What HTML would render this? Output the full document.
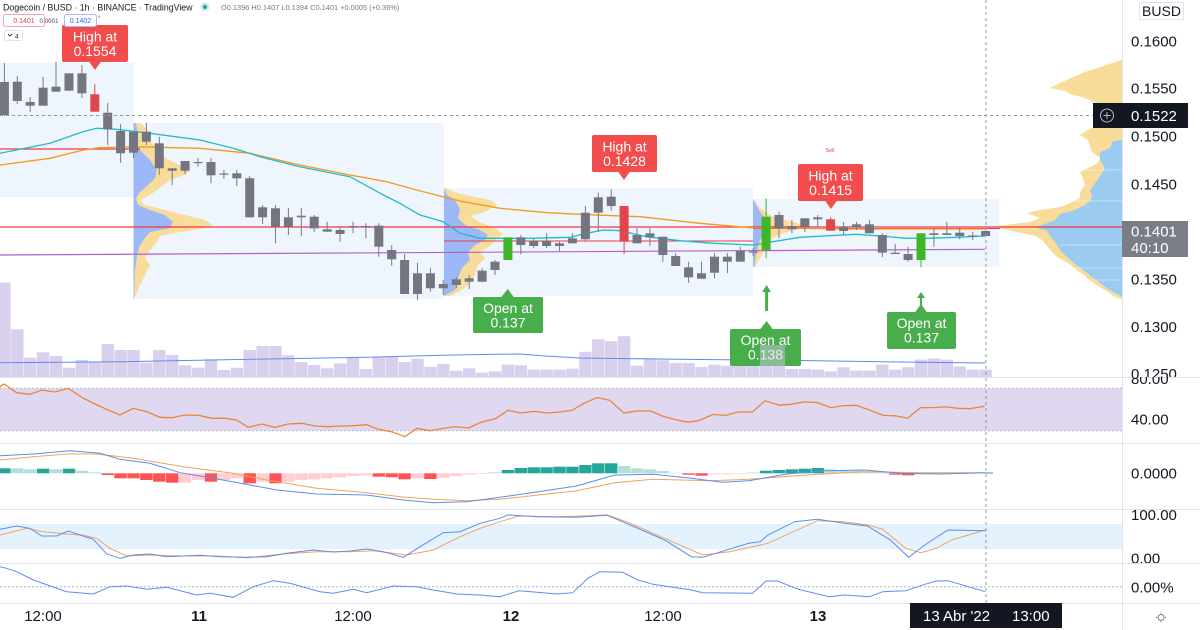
<!DOCTYPE html>
<html><head><meta charset="utf-8"><style>
html,body{margin:0;padding:0;background:#fff;}
svg{display:block;font-family:"Liberation Sans",Arial,sans-serif;}
</style></head><body>
<svg width="1200" height="630" viewBox="0 0 1200 630" xmlns="http://www.w3.org/2000/svg">
<defs>
<clipPath id="cm"><rect x="0" y="0" width="1122" height="377"/></clipPath>
<clipPath id="cr"><rect x="0" y="377" width="1122" height="66"/></clipPath>
<clipPath id="cmacd"><rect x="0" y="443" width="1122" height="66"/></clipPath>
<clipPath id="cs"><rect x="0" y="509" width="1122" height="54"/></clipPath>
<clipPath id="cl"><rect x="0" y="563" width="1122" height="40"/></clipPath>
<clipPath id="ax1"><rect x="1122" y="0" width="78" height="377"/></clipPath>
<clipPath id="ax2"><rect x="1122" y="377" width="78" height="66"/></clipPath>
<clipPath id="ax4"><rect x="1122" y="509" width="78" height="54"/></clipPath>
</defs>
<rect width="1200" height="630" fill="#fff"/>

<!-- MAIN PANE -->
<g clip-path="url(#cm)">
  <!-- session boxes -->
  <rect x="0" y="63" width="133.5" height="134" fill="#eef5fd"/>
  <rect x="133.5" y="123" width="310.5" height="176" fill="#eef5fd"/>
  <rect x="444" y="188" width="309" height="108" fill="#eef5fd"/>
  <rect x="753" y="199" width="246" height="68" fill="#eef5fd"/>

  <!-- box profiles -->
  <polygon fill="#f8dc9c" points="133.5,123 140,123 148,130 145,138 155,145 160,150 165,158 175,163 190,170 185,175 170,180 160,188 150,195 140,200 145,205 165,210 185,215 205,220 213,225 200,229 180,232 160,236 157,242 150,250 145,258 150,265 145,275 140,285 136,295 133.5,299"/>
  <polygon fill="#9db8f6" points="133.5,123 136,123 138,135 135,140 140,150 150,160 157,170 155,178 148,185 140,192 136,198 138,205 150,210 165,215 173,222 170,228 150,232 145,238 140,245 137,255 135,270 134,299 133.5,299"/>
  <polygon fill="#f8dc9c" points="444,188 455,192 470,196 490,200 497,205 485,212 470,216 480,222 495,228 503,234 495,240 490,246 480,252 485,258 478,265 475,275 470,283 462,290 450,296 444,296"/>
  <polygon fill="#9db8f6" points="444,188 447,195 455,200 460,210 458,218 465,225 480,230 488,235 485,240 475,245 468,252 470,260 462,268 458,278 455,290 444,296"/>
  <polygon fill="#f8dc9c" points="753,199 760,208 770,215 785,220 800,224 807,227 795,230 780,234 770,240 765,250 760,258 755,267 753,267"/>
  <polygon fill="#9db8f6" points="753,199 756,205 760,212 765,218 767,225 765,232 760,240 757,250 754,267 753,267"/>

  <!-- right visible range profile -->
  <polygon fill="#dcebf8" points="1122,60 1110,65 1100,72 1095,80 1088,90 1090,100 1095,110 1105,120 1110,130 1113,140 1122,140"/>
  <polygon fill="#f9dc9a" points="1122,60 1112,63 1100,67 1085,72 1073,77 1060,83 1050,88 1065,91 1070,94 1085,98 1095,102 1100,106 1105,112 1110,118 1100,124 1088,130 1080,135 1088,140 1090,146 1092,152 1100,158 1098,163 1090,167 1080,172 1083,178 1085,185 1080,192 1080,198 1070,203 1060,207 1040,210 1027,213 1040,218 1030,222 997,226 1000,228 1017,232 1035,236 1042,240 1047,246 1052,252 1057,257 1068,263 1077,270 1085,276 1092,282 1100,287 1108,292 1115,297 1122,299"/>
  <polygon fill="#9ccbf1" points="1122,140 1113,141 1110,148 1100,152 1100,160 1105,168 1100,176 1095,183 1090,190 1092,198 1085,205 1075,210 1060,214 1055,220 1045,224 1035,227 1047,231 1050,236 1055,242 1060,250 1067,257 1075,264 1083,270 1092,277 1100,283 1108,289 1117,294 1122,297"/>
  <g stroke="#eef6fd" stroke-width="0.6">
    <line x1="1085" y1="170" x2="1122" y2="170"/><line x1="1070" y1="201" x2="1122" y2="201"/><line x1="1060" y1="245" x2="1122" y2="245"/><line x1="1075" y1="268" x2="1122" y2="268"/><line x1="1090" y1="280" x2="1122" y2="280"/>
  </g>

  <!-- volume -->
  <g fill="#d9d0ee">
<rect x="-1.8" y="282.7" width="12.4" height="94.3"/><rect x="11.1" y="329.3" width="12.4" height="47.7"/><rect x="24" y="357.7" width="12.4" height="19.3"/><rect x="36.9" y="352.3" width="12.4" height="24.7"/><rect x="49.8" y="356" width="12.4" height="21"/><rect x="62.8" y="367.7" width="12.4" height="9.3"/><rect x="75.7" y="360" width="12.4" height="17"/><rect x="88.6" y="361.7" width="12.4" height="15.3"/><rect x="101.5" y="344" width="12.4" height="33"/><rect x="114.4" y="350" width="12.4" height="27"/><rect x="127.3" y="350" width="12.4" height="27"/><rect x="140.2" y="362.7" width="12.4" height="14.3"/><rect x="153.1" y="350" width="12.4" height="27"/><rect x="166" y="355" width="12.4" height="22"/><rect x="178.9" y="365.3" width="12.4" height="11.7"/><rect x="191.9" y="367.7" width="12.4" height="9.3"/><rect x="204.8" y="359.3" width="12.4" height="17.7"/><rect x="217.7" y="370" width="12.4" height="7"/><rect x="230.6" y="367.7" width="12.4" height="9.3"/><rect x="243.5" y="350" width="12.4" height="27"/><rect x="256.4" y="346" width="12.4" height="31"/><rect x="269.3" y="346" width="12.4" height="31"/><rect x="282.2" y="355.3" width="12.4" height="21.7"/><rect x="295.1" y="362" width="12.4" height="15"/><rect x="308" y="365" width="12.4" height="12"/><rect x="321" y="368.3" width="12.4" height="8.7"/><rect x="333.9" y="363.3" width="12.4" height="13.7"/><rect x="346.8" y="357.7" width="12.4" height="19.3"/><rect x="359.7" y="369" width="12.4" height="8"/><rect x="372.6" y="356.7" width="12.4" height="20.3"/><rect x="385.5" y="356.7" width="12.4" height="20.3"/><rect x="398.4" y="362" width="12.4" height="15"/><rect x="411.3" y="358.7" width="12.4" height="18.3"/><rect x="424.2" y="366.7" width="12.4" height="10.3"/><rect x="437.1" y="364" width="12.4" height="13"/><rect x="450.1" y="370.7" width="12.4" height="6.3"/><rect x="463" y="368.3" width="12.4" height="8.7"/><rect x="475.9" y="372.7" width="12.4" height="4.3"/><rect x="488.8" y="371.4" width="12.4" height="5.6"/><rect x="501.7" y="364.6" width="12.4" height="12.4"/><rect x="514.6" y="365.3" width="12.4" height="11.7"/><rect x="527.5" y="369.7" width="12.4" height="7.3"/><rect x="540.4" y="369.7" width="12.4" height="7.3"/><rect x="553.3" y="369.7" width="12.4" height="7.3"/><rect x="566.2" y="368.7" width="12.4" height="8.3"/><rect x="579.2" y="351.8" width="12.4" height="25.2"/><rect x="592.1" y="339.2" width="12.4" height="37.8"/><rect x="605" y="341.2" width="12.4" height="35.8"/><rect x="617.9" y="336.2" width="12.4" height="40.8"/><rect x="630.8" y="365.7" width="12.4" height="11.3"/><rect x="643.7" y="359.6" width="12.4" height="17.4"/><rect x="656.6" y="360.2" width="12.4" height="16.8"/><rect x="669.5" y="363" width="12.4" height="14"/><rect x="682.4" y="363" width="12.4" height="14"/><rect x="695.3" y="367" width="12.4" height="10"/><rect x="708.3" y="364.6" width="12.4" height="12.4"/><rect x="721.2" y="365.7" width="12.4" height="11.3"/><rect x="734.1" y="365.7" width="12.4" height="11.3"/><rect x="747" y="365.7" width="12.4" height="11.3"/><rect x="759.9" y="345" width="12.4" height="32"/><rect x="772.8" y="350" width="12.4" height="27"/><rect x="785.7" y="369" width="12.4" height="8"/><rect x="798.6" y="369" width="12.4" height="8"/><rect x="811.5" y="369.7" width="12.4" height="7.3"/><rect x="824.4" y="371.4" width="12.4" height="5.6"/><rect x="837.4" y="367.3" width="12.4" height="9.7"/><rect x="850.3" y="370.7" width="12.4" height="6.3"/><rect x="863.2" y="370.7" width="12.4" height="6.3"/><rect x="876.1" y="364.6" width="12.4" height="12.4"/><rect x="889" y="369.7" width="12.4" height="7.3"/><rect x="901.9" y="367.3" width="12.4" height="9.7"/><rect x="914.8" y="359.6" width="12.4" height="17.4"/><rect x="927.7" y="358.5" width="12.4" height="18.5"/><rect x="940.6" y="359.6" width="12.4" height="17.4"/><rect x="953.5" y="366.5" width="12.4" height="10.5"/><rect x="966.5" y="369.7" width="12.4" height="7.3"/><rect x="979.4" y="369.7" width="12.4" height="7.3"/>
  </g>
  <polyline fill="none" stroke="#5b8def" stroke-width="1" points="0,362.7 123,361.7 250,359.3 367,357.3 443,355.3 480,354.5 520,354 545,356 580,358 700,359.5 800,360.5 900,362 985,363"/>

  <!-- horizontal levels -->
  <line x1="0" y1="149" x2="140" y2="149" stroke="#f23645" stroke-width="1.2"/>
  <line x1="0" y1="227" x2="1122" y2="227" stroke="#f23645" stroke-width="1.3"/>
  <line x1="753" y1="228.5" x2="1000" y2="228.5" stroke="#f23645" stroke-width="1"/>
  <line x1="444" y1="241" x2="753" y2="241" stroke="#f23645" stroke-width="1"/>
  <line x1="0" y1="255" x2="985" y2="249.3" stroke="#b460cf" stroke-width="1.2"/>

  <!-- MAs -->
  <polyline fill="none" stroke="#f39a1e" stroke-width="1.3" points="0,165 50,158.3 83.3,150 100,147.7 133.3,146.7 200,148.3 250,153.3 300,165 350,175 386.7,181.7 416.7,190 440,196 463.3,201.7 500,208.3 546.7,212.7 580,214.3 640,216.7 700,223.3 750,227.7 770,228 850,229 985,229"/>
  <polyline fill="none" stroke="#1fbcc8" stroke-width="1.3" points="0,153.3 50,143.3 83,131.7 96.7,128.3 116.7,129.3 150,133.3 200,140 233.3,148.3 260,156.7 300,166.7 350,176.7 383.3,195 400,203.3 420,215 443.3,221.7 460,233.3 480,238.3 530,238.3 570,237.3 586.7,233.3 603.3,230 620,230.7 646.7,236.7 680,240.7 713.3,243.3 753,245 773,241.7 800,237.3 823,236 856.7,234.3 880,236 906.7,238.3 926.7,238.3 956.7,237.3 985,236"/>

  <!-- candles: wicks -->
  <path fill="none" stroke="#787b86" stroke-width="1" d="M4.4 63V116M17.3 76V104M30.2 97V111.7M43.1 76.7V105.7M56 61.7V91.7M81.9 65V98M107.7 103V145M120.6 124V162.7M133.5 131V158M146.4 122.7V145M159.3 136.7V175M172.2 168.3V185M185.1 161V174M198 158V166.7M211 158V183.3M223.9 170V179M236.8 170V186M249.7 176V217.3M262.6 205V224M275.5 205V243.3M288.4 208V235M301.3 208V235.7M314.2 215V231.7M327.2 221.7V231.7M340.1 226.7V241.7M353 221.7V233.3M365.9 223.3V238.3M378.8 223.3V256.7M391.7 245V265.7M404.6 254V294M417.5 262.7V300M430.4 267.7V291.7M443.3 280V295M456.3 276.7V288.3M469.2 275V289M482.1 268.3V281.7M495 260V275M520.8 235V254.3M533.7 238.3V248.3M546.6 233.3V248.3M559.5 241.7V251M572.4 233.3V243.3M585.4 206V241.7M598.3 192.7V231.7M611.2 189.3V210.7M637 228.3V243.3M649.9 228.3V246M662.8 236.7V261.7M675.7 253.3V266M688.6 261.7V282.7M701.5 261.7V278.7M714.5 253.3V278.3M727.4 253.3V273.3M740.3 246.7V261.7M753.2 248V256M779 211.7V238.3M791.9 220V233.3M804.8 218.3V231.7M817.7 215V226.7M843.6 222V235M856.5 221.7V230M869.4 220V233.3M882.3 233.3V257.3M895.2 244V254M908.1 246.7V261.7M933.9 228.3V246.7M946.8 221.7V235M959.7 228.3V239.3M972.7 231.7V240M985.6 231V236"/>
  <path fill="none" stroke="#e0474c" stroke-width="1" d="M94.8 84.3V111.7M624.1 206V254M830.6 217.3V230.7"/>
  <path fill="none" stroke="#3fb628" stroke-width="1" d="M766.1 198.3V258.3M921 233.3V267.3"/>
  <!-- candle bodies -->
  <g fill="#737680">
<rect x="-0.1" y="82" width="9" height="33"/><rect x="12.8" y="81.7" width="9" height="19.3"/><rect x="25.7" y="102" width="9" height="3.7"/><rect x="38.6" y="87.7" width="9" height="18"/><rect x="51.5" y="86.7" width="9" height="5"/><rect x="64.5" y="73.3" width="9" height="17.4"/><rect x="77.4" y="73.3" width="9" height="20"/><rect x="103.2" y="112.7" width="9" height="16.6"/><rect x="116.1" y="131" width="9" height="22.3"/><rect x="129" y="131.7" width="9" height="21"/><rect x="141.9" y="131.7" width="9" height="10"/><rect x="154.8" y="143.3" width="9" height="25"/><rect x="167.7" y="168.3" width="9" height="2.4"/><rect x="180.6" y="161" width="9" height="9.7"/><rect x="193.6" y="162" width="9" height="1.2"/><rect x="206.5" y="162" width="9" height="13.3"/><rect x="219.4" y="173.5" width="9" height="1.2"/><rect x="232.3" y="173.3" width="9" height="5"/><rect x="245.2" y="178.3" width="9" height="39"/><rect x="258.1" y="207.3" width="9" height="10"/><rect x="271" y="208.3" width="9" height="18.4"/><rect x="283.9" y="217.3" width="9" height="9.4"/><rect x="296.8" y="215.7" width="9" height="1.6"/><rect x="309.7" y="216.7" width="9" height="11.6"/><rect x="322.7" y="229.3" width="9" height="2.4"/><rect x="335.6" y="230" width="9" height="4"/><rect x="348.5" y="226" width="9" height="1.2"/><rect x="361.4" y="226" width="9" height="1.2"/><rect x="374.3" y="225.7" width="9" height="21"/><rect x="387.2" y="250" width="9" height="9.3"/><rect x="400.1" y="260" width="9" height="34"/><rect x="413" y="273.3" width="9" height="20.7"/><rect x="425.9" y="273.3" width="9" height="15"/><rect x="438.8" y="284" width="9" height="4.3"/><rect x="451.8" y="279.3" width="9" height="5.7"/><rect x="464.7" y="278.3" width="9" height="3.4"/><rect x="477.6" y="270.7" width="9" height="11"/><rect x="490.5" y="261.7" width="9" height="8.3"/><rect x="516.3" y="237.3" width="9" height="7.7"/><rect x="529.2" y="241" width="9" height="5"/><rect x="542.1" y="241" width="9" height="5"/><rect x="555" y="243.3" width="9" height="2.7"/><rect x="567.9" y="238.3" width="9" height="5"/><rect x="580.9" y="212.7" width="9" height="26.6"/><rect x="593.8" y="197.3" width="9" height="15.4"/><rect x="606.7" y="196.7" width="9" height="9.3"/><rect x="632.5" y="235" width="9" height="8.3"/><rect x="645.4" y="233.3" width="9" height="4"/><rect x="658.3" y="236.7" width="9" height="18.3"/><rect x="671.2" y="256" width="9" height="10"/><rect x="684.1" y="267.3" width="9" height="10"/><rect x="697" y="273.3" width="9" height="5.4"/><rect x="710" y="256.7" width="9" height="16"/><rect x="722.9" y="256.7" width="9" height="5"/><rect x="735.8" y="250.7" width="9" height="11"/><rect x="748.7" y="251.5" width="9" height="1.2"/><rect x="774.5" y="215" width="9" height="13.3"/><rect x="787.4" y="226" width="9" height="3.3"/><rect x="800.3" y="218.3" width="9" height="8.4"/><rect x="813.2" y="217.3" width="9" height="2"/><rect x="839.1" y="226.7" width="9" height="4.3"/><rect x="852" y="224.3" width="9" height="3"/><rect x="864.9" y="224.3" width="9" height="9"/><rect x="877.8" y="235" width="9" height="17.7"/><rect x="890.7" y="252.7" width="9" height="1.3"/><rect x="903.6" y="254" width="9" height="6"/><rect x="929.4" y="233.3" width="9" height="1.7"/><rect x="942.3" y="233.3" width="9" height="1.7"/><rect x="955.2" y="232.7" width="9" height="3.3"/><rect x="968.2" y="235.5" width="9" height="1.2"/><rect x="981.1" y="231" width="9" height="5"/>
  </g>
  <g fill="#e0474c"><rect x="90.3" y="94.3" width="9" height="17.4"/><rect x="619.6" y="206" width="9" height="35.7"/><rect x="826.1" y="219.3" width="9" height="11.4"/></g>
  <g fill="#3fb628"><rect x="503.4" y="237.3" width="9" height="22.7"/><rect x="761.6" y="216.7" width="9" height="33.3"/><rect x="916.5" y="233.3" width="9" height="26.7"/></g>

  <!-- crosshair horizontal -->
  <line x1="0" y1="115.5" x2="1093" y2="115.5" stroke="#9598a1" stroke-width="1" stroke-dasharray="3,3"/>

  <!-- labels -->
  <g font-size="14" fill="#fff" text-anchor="middle">
    <rect x="62" y="25" width="66" height="37" rx="2" fill="#f24c4c"/>
    <polygon points="89,61.5 101,61.5 95,70" fill="#f24c4c"/>
    <text x="95" y="41.5">High at</text><text x="95" y="56">0.1554</text>

    <rect x="592" y="135" width="65" height="37" rx="2" fill="#f24c4c"/>
    <polygon points="618,171.5 630,171.5 624,180" fill="#f24c4c"/>
    <text x="624.5" y="151.5">High at</text><text x="624.5" y="166">0.1428</text>

    <rect x="798" y="164" width="65" height="37" rx="2" fill="#f24c4c"/>
    <polygon points="825,200.5 837,200.5 831,209" fill="#f24c4c"/>
    <text x="830.5" y="180.5">High at</text><text x="830.5" y="195">0.1415</text>

    <rect x="473" y="297" width="70" height="36" rx="2" fill="#48ad4b"/>
    <polygon points="501,297.5 514,297.5 507.7,289" fill="#48ad4b"/>
    <text x="508" y="313">Open at</text><text x="508" y="327.5">0.137</text>

    <rect x="730" y="329" width="71" height="37" rx="2" fill="#48ad4b"/>
    <polygon points="760,329.5 773,329.5 766.6,321" fill="#48ad4b"/>
    <text x="765.5" y="345">Open at</text><text x="765.5" y="359.5">0.138</text>
    <rect x="760" y="345" width="25" height="21" fill="#d6cdea" opacity="0.45"/>

    <rect x="887" y="312" width="69" height="37" rx="2" fill="#48ad4b"/>
    <polygon points="915,312.5 927,312.5 921,304" fill="#48ad4b"/>
    <text x="921.5" y="328">Open at</text><text x="921.5" y="342.5">0.137</text>
  </g>
  <line x1="766.6" y1="290" x2="766.6" y2="311" stroke="#48ad4b" stroke-width="3"/>
  <polygon points="762,292 771,292 766.6,285" fill="#48ad4b"/>
  <line x1="921" y1="296" x2="921" y2="305" stroke="#48ad4b" stroke-width="2"/>
  <polygon points="917,298 925,298 921,292" fill="#48ad4b"/>
  <text x="830" y="152" font-size="5.5" fill="#f23645" text-anchor="middle">Sell</text>
</g>

<!-- RSI PANE -->
<g clip-path="url(#cr)">
  <rect x="0" y="388.3" width="1122" height="42.4" fill="#7e57c2" fill-opacity="0.24"/>
  <line x1="0" y1="388.3" x2="1122" y2="388.3" stroke="#b6b8c2" stroke-dasharray="2,2"/>
  <line x1="0" y1="430.7" x2="1122" y2="430.7" stroke="#b6b8c2" stroke-dasharray="2,2"/>
  <polyline fill="none" stroke="#e6883a" stroke-width="1.3" points="0,386.7 4,384 16.7,392.7 30,394.3 41.7,390 55,392 68.3,388.3 81.7,397.3 95,404 106.7,409.3 120,415 133.3,408.3 146.7,411.7 160,417.3 171.7,417.7 185,415 198.3,415.3 211.7,418.3 225,418.3 236.7,420 248.3,427.3 261.7,424 275,427.3 288.3,424 301.7,423.3 315,426 328.3,426.7 340,426 353.3,425.7 366.7,424.7 378.3,429.3 391.7,431.7 405,436.7 416.7,428.3 430,430.7 440,429 454.3,426.6 468.6,428 481.1,422.2 495.4,418.8 507.9,410.3 520.4,413 534.6,411.4 547.1,413 559.6,412 572.1,410.3 584.6,402.9 597.1,397.5 609.6,400.2 623.9,413 636.4,411 650.7,411 663.2,416.4 675.7,419.8 688.2,422.2 698.9,420.5 713.2,414.4 725.7,415.4 738.2,412 752.5,412 765,400.8 779.3,405.2 791.8,404.2 804.3,401.9 816.8,402.5 831.1,407.6 843.6,405.6 856.1,405.3 868.6,409.7 882.9,415.4 895.4,415.8 907.9,418.1 920.4,407.6 932.9,407.6 945.4,406.9 957.9,408.3 970.4,408.6 984.6,406.3"/>
</g>

<!-- MACD PANE -->
<g clip-path="url(#cmacd)">
  <g fill="#26a69a">
<rect x="-1.8" y="468.3" width="12.4" height="5"/><rect x="36.9" y="468.7" width="12.4" height="4.6"/><rect x="62.8" y="468.7" width="12.4" height="4.6"/><rect x="501.7" y="470" width="12.4" height="3.3"/><rect x="514.6" y="468" width="12.4" height="5.3"/><rect x="527.5" y="467.3" width="12.4" height="6"/><rect x="540.4" y="467.3" width="12.4" height="6"/><rect x="553.3" y="466.7" width="12.4" height="6.6"/><rect x="566.2" y="466.7" width="12.4" height="6.6"/><rect x="579.2" y="465" width="12.4" height="8.3"/><rect x="592.1" y="463.3" width="12.4" height="10"/><rect x="605" y="463.3" width="12.4" height="10"/><rect x="759.9" y="470.7" width="12.4" height="2.6"/><rect x="772.8" y="470" width="12.4" height="3.3"/><rect x="785.7" y="469.3" width="12.4" height="4"/><rect x="798.6" y="468.7" width="12.4" height="4.6"/><rect x="811.5" y="468" width="12.4" height="5.3"/>
  </g>
  <g fill="#b2dfdb">
<rect x="11.1" y="468.3" width="12.4" height="5"/><rect x="24" y="469.3" width="12.4" height="4"/><rect x="49.8" y="469.3" width="12.4" height="4"/><rect x="75.7" y="470.7" width="12.4" height="2.6"/><rect x="88.6" y="472.3" width="12.4" height="1"/><rect x="488.8" y="472.3" width="12.4" height="1"/><rect x="617.9" y="466" width="12.4" height="7.3"/><rect x="630.8" y="468.3" width="12.4" height="5"/><rect x="643.7" y="469.3" width="12.4" height="4"/><rect x="656.6" y="471" width="12.4" height="2.3"/><rect x="669.5" y="472.7" width="12.4" height="0.6"/><rect x="747" y="472.5" width="12.4" height="0.8"/><rect x="824.4" y="469.3" width="12.4" height="4"/><rect x="837.4" y="470" width="12.4" height="3.3"/><rect x="850.3" y="470.7" width="12.4" height="2.6"/><rect x="863.2" y="471.7" width="12.4" height="1.6"/><rect x="876.1" y="472.7" width="12.4" height="0.6"/><rect x="940.6" y="473" width="12.4" height="0.4"/><rect x="966.5" y="472.8" width="12.4" height="0.6"/><rect x="979.4" y="472.8" width="12.4" height="0.6"/>
  </g>
  <g fill="#ff5252">
<rect x="101.5" y="473.3" width="12.4" height="1.7"/><rect x="114.4" y="473.3" width="12.4" height="5"/><rect x="127.3" y="473.3" width="12.4" height="5"/><rect x="140.2" y="473.3" width="12.4" height="6.7"/><rect x="153.1" y="473.3" width="12.4" height="8.4"/><rect x="166" y="473.3" width="12.4" height="9.4"/><rect x="204.8" y="473.3" width="12.4" height="8.4"/><rect x="243.5" y="473.3" width="12.4" height="10"/><rect x="269.3" y="473.3" width="12.4" height="10"/><rect x="372.6" y="473.3" width="12.4" height="3.4"/><rect x="385.5" y="473.3" width="12.4" height="4"/><rect x="398.4" y="473.3" width="12.4" height="6"/><rect x="424.2" y="473.3" width="12.4" height="5.7"/><rect x="682.4" y="473.3" width="12.4" height="1.4"/><rect x="695.3" y="473.3" width="12.4" height="2.4"/><rect x="889" y="473.3" width="12.4" height="1.4"/><rect x="901.9" y="473.3" width="12.4" height="2"/>
  </g>
  <g fill="#ffcdd2">
<rect x="178.9" y="473.3" width="12.4" height="9.4"/><rect x="191.9" y="473.3" width="12.4" height="6.7"/><rect x="217.7" y="473.3" width="12.4" height="6.7"/><rect x="230.6" y="473.3" width="12.4" height="5"/><rect x="256.4" y="473.3" width="12.4" height="8.4"/><rect x="282.2" y="473.3" width="12.4" height="8.4"/><rect x="295.1" y="473.3" width="12.4" height="6.7"/><rect x="308" y="473.3" width="12.4" height="6"/><rect x="321" y="473.3" width="12.4" height="5"/><rect x="333.9" y="473.3" width="12.4" height="4"/><rect x="346.8" y="473.3" width="12.4" height="2.7"/><rect x="359.7" y="473.3" width="12.4" height="2"/><rect x="411.3" y="473.3" width="12.4" height="5"/><rect x="437.1" y="473.3" width="12.4" height="4.4"/><rect x="450.1" y="473.3" width="12.4" height="2.7"/><rect x="463" y="473.3" width="12.4" height="1.4"/><rect x="475.9" y="473.3" width="12.4" height="0.7"/><rect x="708.3" y="473.3" width="12.4" height="1"/><rect x="721.2" y="473.3" width="12.4" height="1"/><rect x="734.1" y="473.3" width="12.4" height="0.7"/><rect x="914.8" y="473.3" width="12.4" height="1"/><rect x="927.7" y="473.3" width="12.4" height="0.7"/><rect x="953.5" y="473.3" width="12.4" height="0.5"/>
  </g>
  <polyline fill="none" stroke="#f0a35e" stroke-width="1" points="0,460 33.3,456.7 66.7,454 96.7,454 133.3,458.3 183.3,466.7 233.3,473.3 266.7,480 316.7,488.3 366.7,492.7 400,496.7 433.3,499.3 466.7,500.7 500,499.3 576.5,490.7 614.8,482.7 653,479.3 710.5,480.7 748.8,479.3 806.2,475 863.6,471.7 921,472.7 985.3,472.7"/>
  <polyline fill="none" stroke="#5b8def" stroke-width="1" points="0,455.7 33.3,454 70,450.7 100,453.3 120,459.3 150,463.3 180,472.7 213.3,478.3 250,485 276.7,490 316.7,494 366.7,495 403.3,500 433.3,502.7 466.7,501.7 500,497.3 538.3,491.7 576.5,486 614.8,475 653,474.3 691.4,478.3 722,482.3 748.8,480.7 787,474 825.3,470.7 863.6,470 901.8,473.3 940,474 985.3,472.7"/>
  <line x1="985" y1="473" x2="993" y2="473" stroke="#26a69a" stroke-width="1"/>
</g>

<!-- STOCH PANE -->
<g clip-path="url(#cs)">
  <rect x="0" y="524" width="1122" height="25.3" fill="#2196f3" fill-opacity="0.12"/>
  <polyline fill="none" stroke="#f0a35e" stroke-width="1" points="0,535 26.7,528.3 43.3,531.7 66.7,534 83.3,535.3 96.7,538.3 110,548.3 126.7,556 150,555 183.3,556 216.7,556 246.7,557.7 283.3,554 316.7,551.7 350,551.7 373.3,550.7 393.3,553.3 406.7,555 433.3,550 460,536.7 480,528.3 500,521.7 519.1,516 557.4,516.7 607.2,515 626.3,521.7 664.6,538.3 702.8,555 729.6,551.7 767.9,543.3 817.6,520.7 844.4,521.7 867.4,525 882.7,529.3 905.7,548.3 921,552.7 936.3,548.3 951.6,540 985.3,530"/>
  <polyline fill="none" stroke="#5b8def" stroke-width="1" points="0,529.3 16.7,526 30,528.3 41.7,536 56.7,536 68.3,531 80,535 93.3,539.3 106.7,554 120,558.3 133.3,555 150,554 166.7,556.7 200,555.3 220,556.7 246.7,557.3 266.7,556.7 286.7,553.3 313.3,550 333.3,552 350,551 366.7,549 383.3,551.7 403.3,557.3 420,546.7 443.3,532.7 460,531.7 480,523.3 500,518.3 507.7,515 538.3,516.7 576.5,517.3 607.2,515.3 626.3,523.3 664.6,540 691.4,556.7 702.8,557.3 748.8,543.3 760.2,541.7 767.9,535 794.7,521.7 817.6,519.3 844.4,523.3 867.4,526 890.4,540 908.7,557.3 924.8,545 947.8,530 985.3,530.7"/>
</g>

<!-- LAST PANE -->
<g clip-path="url(#cl)">
  <line x1="0" y1="586.7" x2="1122" y2="586.7" stroke="#b2b5be" stroke-width="1" stroke-dasharray="2,2"/>
  <polyline fill="none" stroke="#5b8def" stroke-width="1" points="0,566.7 6.7,568.3 16.7,571.7 33.3,580 66.7,591.7 93.3,594 110,586.7 126.7,586 146.7,589.3 166.7,587.3 196.7,595 210,593.3 233.3,597.3 253.3,586.7 273.3,580.7 290,583.3 320,591.7 333.3,593.3 353.3,589.3 366.7,592.7 393.3,586 416.7,586.7 433.3,590 456.7,594 480,595 500,596.7 519.1,590.7 557.4,594 572.7,592.7 588,578.3 599.5,571.7 622.5,572.3 637.8,580 653.1,584.3 691.4,590 702.8,592.7 752.6,593.3 766,581 777.5,581 798.5,589.3 829.1,596.7 844.4,595 869.3,596.7 882.7,591.7 905.7,590.7 924.8,584.3 936.3,581 947.8,580.7 985.3,591.7"/>
</g>

<!-- crosshair vertical -->
<line x1="986" y1="0" x2="986" y2="603" stroke="#9598a1" stroke-width="1" stroke-dasharray="3,3"/>

<!-- pane separators & axis border -->
<g stroke="#e0e3eb" stroke-width="1">
  <line x1="0" y1="377.5" x2="1200" y2="377.5"/>
  <line x1="0" y1="443.5" x2="1200" y2="443.5"/>
  <line x1="0" y1="509.5" x2="1200" y2="509.5"/>
  <line x1="0" y1="563.5" x2="1200" y2="563.5"/>
  <line x1="0" y1="603.5" x2="1200" y2="603.5"/>
  <line x1="1122.5" y1="0" x2="1122.5" y2="630"/>
</g>

<!-- header legend -->
<text x="3" y="10.5" font-size="8.8" fill="#131722">Dogecoin / BUSD · 1h · BINANCE · TradingView</text>
<circle cx="205" cy="7" r="4.5" fill="#26a69a" opacity="0.2"/>
<circle cx="205" cy="7" r="2.2" fill="#26a69a"/>
<text x="221" y="10" font-size="7.4" fill="#787b86">O0.1396 H0.1407 L0.1394 C0.1401 +0.0005 (+0.36%)</text>
<rect x="3.5" y="14.5" width="41" height="12" rx="2" fill="#fff" stroke="#f5a5ab"/>
<text x="24" y="23.2" font-size="7" fill="#f23645" text-anchor="middle">0.1401</text>
<text x="49" y="23" font-size="6.2" fill="#50535e" text-anchor="middle">0.0001</text>
<rect x="64.5" y="14.5" width="32" height="12" rx="2" fill="#fff" stroke="#a9b9f9"/>
<text x="80.5" y="23.2" font-size="7" fill="#2962ff" text-anchor="middle">0.1402</text>
<text x="98" y="18" font-size="4" fill="#f23645">8</text>
<rect x="4.5" y="30.5" width="18" height="10" rx="2" fill="#fff" stroke="#e0e3eb"/>
<path d="M8 34 L10 36 L12 34" fill="none" stroke="#131722" stroke-width="0.8"/>
<text x="15" y="38.5" font-size="6.5" fill="#131722">4</text>

<!-- right axis -->
<rect x="1139.5" y="2.5" width="44" height="17" fill="#fff" stroke="#e0e3eb"/>
<text x="1161.5" y="16" font-size="14" fill="#131722" text-anchor="middle">BUSD</text>
<g font-size="15" fill="#131722">
  <text x="1131" y="46.3">0.1600</text>
  <text x="1131" y="93.6">0.1550</text>
  <text x="1131" y="141.3">0.1500</text>
  <text x="1131" y="189.6">0.1450</text>
  <text x="1131" y="284.6">0.1350</text>
  <text x="1131" y="332">0.1300</text>
  <text x="1131" y="379" clip-path="url(#ax1)">0.1250</text>
  <text x="1131" y="384" clip-path="url(#ax2)">80.00</text>
  <text x="1131" y="424.3">40.00</text>
  <text x="1131" y="478.6">0.0000</text>
  <text x="1131" y="520">100.00</text>
  <text x="1131" y="563.5" clip-path="url(#ax4)">0.00</text>
  <text x="1131" y="592.3">0.00%</text>
</g>
<!-- crosshair price label -->
<rect x="1093" y="103" width="95" height="25" fill="#131722"/>
<circle cx="1107" cy="115.5" r="6.5" fill="none" stroke="#b2b5be" stroke-width="1"/>
<path d="M1103.5 115.5H1110.5M1107 112V119" stroke="#b2b5be" stroke-width="1"/>
<text x="1131" y="121" font-size="15" fill="#fff">0.1522</text>
<!-- last price label -->
<rect x="1122" y="221" width="66" height="36" fill="#7a7d86"/>
<text x="1131" y="236.3" font-size="15" fill="#fff">0.1401</text>
<text x="1131" y="253" font-size="15" fill="#fff">40:10</text>

<!-- time axis -->
<g font-size="15" fill="#131722" text-anchor="middle">
  <text x="43" y="621">12:00</text>
  <text x="199" y="621" font-weight="bold">11</text>
  <text x="353" y="621">12:00</text>
  <text x="511" y="621" font-weight="bold">12</text>
  <text x="663" y="621">12:00</text>
  <text x="818" y="621" font-weight="bold">13</text>
</g>
<rect x="910" y="603" width="152" height="25" fill="#131722"/>
<text x="923" y="621" font-size="15" fill="#fff">13 Abr '22</text>
<text x="1012" y="621" font-size="15" fill="#fff">13:00</text>
<circle cx="1161" cy="617.5" r="3" fill="none" stroke="#787b86" stroke-width="1"/>
<path d="M1161 612.5V613.5M1161 621.5V622.5M1156 617.5H1157M1165 617.5H1166" stroke="#787b86" stroke-width="1"/>
</svg>
</body></html>
